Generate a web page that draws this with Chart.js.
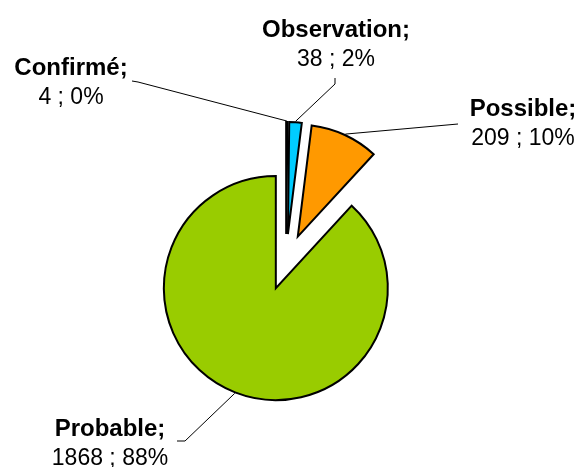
<!DOCTYPE html>
<html lang="fr">
<head>
<meta charset="utf-8">
<title>Statut de nidification</title>
<script src="https://cdn.jsdelivr.net/npm/chart.js@4/dist/chart.umd.min.js"></script>
<style>
  html, body { margin: 0; padding: 0; background: #ffffff; }
  canvas { display: block; }
</style>
</head>
<body>
<canvas id="pie" width="579" height="467"></canvas>
<script>
// Breeding status counts
const categories = ['Confirmé', 'Observation', 'Possible', 'Probable'];
const counts = [4, 38, 209, 1868];
const sliceColors = ['#000080', '#00CCFF', '#FF9900', '#99CC00'];

const total = counts.reduce((a, b) => a + b, 0);
const EXPLODE = 28;
const FONT_FAMILY = '"Liberation Sans", Arial, Helvetica, sans-serif';

// Label placement: centre x and first baseline, plus the elbow of each leader line
const labelLayout = [
  { cx: 71,  y: 75,  elbow: [[132, 81], [138, 82]] },
  { cx: 336, y: 37,  elbow: [[335, 78], [335, 84]] },
  { cx: 523, y: 116, elbow: [[458, 124]] },
  { cx: 110, y: 436, elbow: [[177, 441], [185, 441]] }
];

// Pull every slice away from the centre along its bisector
const explodePlugin = {
  id: 'explodeSlices',
  afterDatasetUpdate(chart, args) {
    args.meta.data.forEach(arc => {
      const mid = (arc.startAngle + arc.endAngle) / 2;
      arc.x += Math.cos(mid) * EXPLODE;
      arc.y += Math.sin(mid) * EXPLODE;
    });
  }
};

// Two-line callouts with leader lines
const calloutPlugin = {
  id: 'callouts',
  afterDatasetsDraw(chart) {
    const ctx = chart.ctx;
    const arcs = chart.getDatasetMeta(0).data;
    ctx.save();
    arcs.forEach((arc, i) => {
      const lay = labelLayout[i];
      const mid = (arc.startAngle + arc.endAngle) / 2;
      const r = arc.outerRadius + 1;
      const ax = arc.x + Math.cos(mid) * r;
      const ay = arc.y + Math.sin(mid) * r;

      ctx.beginPath();
      ctx.strokeStyle = '#000000';
      ctx.lineWidth = 1;
      const pts = lay.elbow;
      ctx.moveTo(pts[0][0], pts[0][1]);
      for (let k = 1; k < pts.length; k++) ctx.lineTo(pts[k][0], pts[k][1]);
      ctx.lineTo(ax, ay);
      ctx.stroke();

      const pct = Math.round(counts[i] / total * 100);
      ctx.fillStyle = '#000000';
      ctx.textAlign = 'center';
      ctx.textBaseline = 'alphabetic';
      ctx.font = 'bold 24px ' + FONT_FAMILY;
      ctx.fillText(categories[i] + ';', lay.cx, lay.y);
      ctx.font = '23px ' + FONT_FAMILY;
      ctx.fillText(counts[i] + ' ; ' + pct + '%', lay.cx, lay.y + 29);
    });
    ctx.restore();
  }
};

new Chart(document.getElementById('pie'), {
  type: 'pie',
  data: {
    labels: categories,
    datasets: [{
      data: counts,
      backgroundColor: sliceColors,
      borderColor: '#000000',
      borderWidth: 2,
      borderJoinStyle: 'miter'
    }]
  },
  options: {
    responsive: false,
    animation: false,
    events: [],
    radius: 112,
    layout: { padding: { left: 0, right: 7, top: 57, bottom: 0 } },
    plugins: {
      legend: { display: false },
      tooltip: { enabled: false },
      title: { display: false }
    }
  },
  plugins: [explodePlugin, calloutPlugin]
});
</script>
</body>
</html>
